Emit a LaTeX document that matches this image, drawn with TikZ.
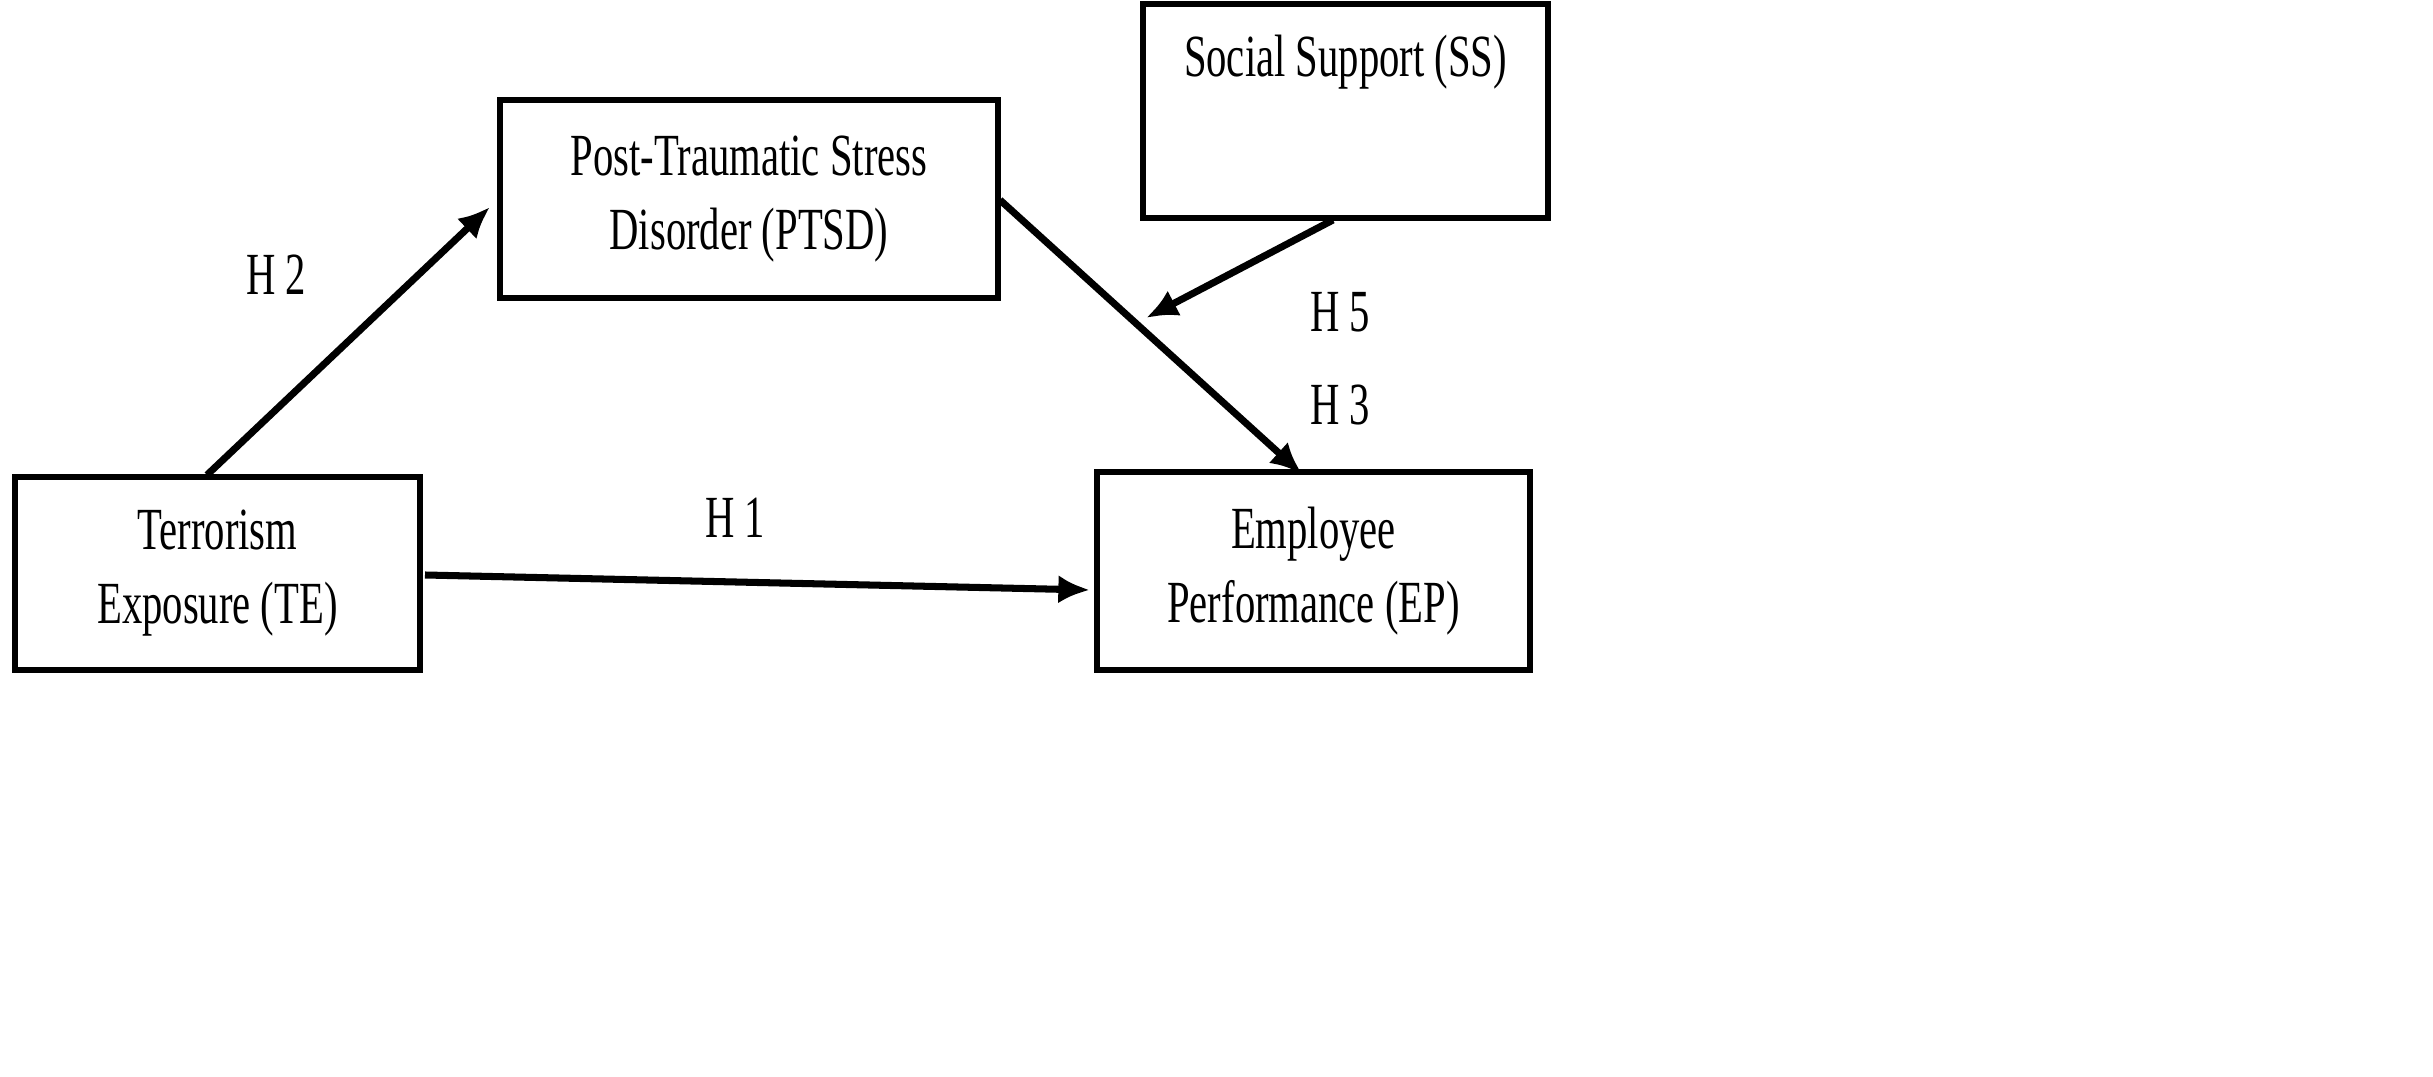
\documentclass[tikz,border=0pt]{standalone}
\usepackage{fontspec}
\setmainfont{Liberation Serif}
\usepackage{graphicx}
\usetikzlibrary{arrows.meta}
\newcommand{\sq}[1]{\scalebox{0.68}[1]{#1}}
\begin{document}
\begin{tikzpicture}[x=0.01cm,y=-0.01cm,
  box/.style={draw,line width=1.6pt,inner sep=0,font=\fontsize{17}{21}\selectfont,align=center},
  lab/.style={font=\fontsize{17}{21}\selectfont,align=center},
  arr/.style={line width=2pt,-{Latex[length=9pt,width=8pt]}}]
\useasboundingbox (0,0) rectangle (2433,1077);
\node[box,minimum width=4.98cm,minimum height=1.98cm] (ptsd) at (749,199) {\sq{Post-Traumatic Stress}\\\sq{Disorder (PTSD)}};
\node[box,minimum width=4.05cm,minimum height=2.14cm,text depth=1.1cm] (ss) at (1345.5,111) {\sq{Social Support (SS)}};
\node[box,minimum width=4.05cm,minimum height=1.93cm] (te) at (217.5,573.5) {\sq{Terrorism}\\\sq{Exposure (TE)}};
\node[box,minimum width=4.33cm,minimum height=1.98cm] (ep) at (1313.5,571) {\sq{Employee}\\\sq{Performance (EP)}};
\coordinate (a1) at (207,475); \coordinate (a2) at (490,207);
\coordinate (b1) at (1000,200); \coordinate (b2) at (1302,474);
\coordinate (c1) at (1333,220); \coordinate (c2) at (1146,318);
\coordinate (d1) at (425,575); \coordinate (d2) at (1090,590);
\draw[arr] (a1) -- (a2);
\draw[arr] (b1) -- (b2);
\draw[arr] (c1) -- (c2);
\draw[arr] (d1) -- (d2);
\node[lab] (h2) at (276,275) {\sq{H 2}};
\node[lab] (h5) at (1340,312) {\sq{H 5}};
\node[lab] (h3) at (1340,405) {\sq{H 3}};
\node[lab] (h1) at (735,518) {\sq{H 1}};
\end{tikzpicture}
\end{document}
